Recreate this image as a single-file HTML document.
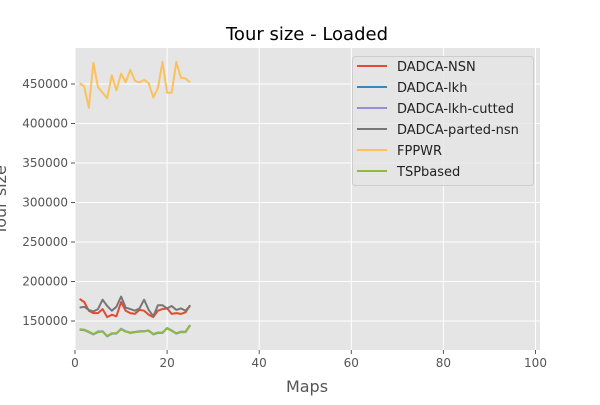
<!DOCTYPE html>
<html><head><meta charset="utf-8"><style>
body{margin:0;background:#fff;font-family:"Liberation Sans","DejaVu Sans",sans-serif;}
svg text{font-family:"DejaVu Sans","Liberation Sans",sans-serif;}
</style></head><body>
<svg id="c" width="600" height="400"></svg>
<script>
const xs=[1,2,3,4,5,6,7,8,9,10,11,12,13,14,15,16,17,18,19,20,21,22,23,24,25];
const nsn=[178000,174000,163000,160000,160000,165000,155000,158000,156000,174000,163000,160000,159000,164000,163000,158000,155000,163000,165000,166000,159000,160000,159000,161000,170000];
const parted=[167000,168000,164000,162000,165000,177000,169000,163000,168000,181000,167000,165000,163000,166000,177000,164000,156000,170000,170000,166000,169000,164000,166000,163000,169000];
const tsp=[139500,139000,136500,133500,136500,136500,131000,134500,134500,139500,136500,135500,136000,136500,137000,137500,133500,135500,135500,140500,137500,134500,136500,136500,145000];
const lkh=[139000,138500,136000,133000,136000,137000,130500,134000,134000,140000,137000,135000,136000,137000,137000,138000,133000,135000,135000,141000,138000,134000,136000,136000,144500];
const lkhc=[139200,138800,136300,133200,136800,136800,130800,134200,134300,140200,136800,135300,136200,136800,137200,137800,133300,135300,135300,140800,137800,134300,136300,136300,144800];
const fppwr=[451000,447000,420000,477000,446000,439000,432000,461000,442000,463000,452000,468000,454000,452000,455000,451000,433000,445000,478000,439000,439000,478000,458000,457000,452000];
const xTicks=[0,20,40,60,80,100];
const yTicks=[150000,200000,250000,300000,350000,400000,450000];
const seriesNames=["DADCA-NSN","DADCA-lkh","DADCA-lkh-cutted","DADCA-parted-nsn","FPPWR","TSPbased"];
const seriesData=[nsn,lkh,lkhc,parted,fppwr,tsp];
const colors=["#E24A33","#348ABD","#988ED5","#777777","#FBC15E","#8EBA42"];
const L=75,R=540,T=48,B=350;
const xS=v=>75+v*4.605;
const yS=v=>321-(v-150000)*0.00079;
const svg=document.getElementById('c');
const NS='http://www.w3.org/2000/svg';
function el(t,a,p){const e=document.createElementNS(NS,t);for(const k in a)e.setAttribute(k,a[k]);(p||svg).appendChild(e);return e;}
let bg=el('rect',{x:L,y:T,width:R-L,height:B-T,fill:'#E5E5E5'});


xTicks.forEach(v=>{const x=xS(v);
 let g=el('line',{x1:x,x2:x,y1:T,y2:B,stroke:'#fff','stroke-width':1});
 
 
 el('line',{x1:x,x2:x,y1:B,y2:B+4,stroke:'#555'});
 let t=el('text',{x:x,y:B+17,'text-anchor':'middle','font-size':12,fill:'#555'});t.textContent=v;
 
 
});
yTicks.forEach(v=>{const y=yS(v);
 let g=el('line',{x1:L,x2:R,y1:y,y2:y,stroke:'#fff','stroke-width':1});
 
 
 el('line',{x1:L-4,x2:L,y1:y,y2:y,stroke:'#555'});
 let t=el('text',{x:L-7,y:y+4,'text-anchor':'end','font-size':12,fill:'#555'});t.textContent=v;
 
 
});
seriesData.forEach((d,i)=>{
 const pts=d.map((v,j)=>xS(xs[j]).toFixed(1)+','+yS(v).toFixed(1)).join(' ');
 let p=el('polyline',{points:pts,fill:'none',stroke:colors[i],'stroke-width':2,'stroke-linejoin':'round'});
 
 
});
let tt=el('text',{x:307,y:40,'text-anchor':'middle','font-size':18,fill:'#000'});tt.textContent='Tour size - Loaded';


let xl=el('text',{x:307,y:392,'text-anchor':'middle','font-size':16,fill:'#555'});xl.textContent='Maps';


let yl=el('text',{x:0,y:0,'text-anchor':'middle','font-size':16,fill:'#555',transform:'translate(6,200) rotate(-90)'});yl.textContent='Tour size';


let lg=el('rect',{x:352.5,y:56.5,width:181,height:129,rx:3,fill:'#E5E5E5','fill-opacity':0.8,stroke:'#ccc'});


seriesNames.forEach((n,i)=>{const y=66+i*21;
 let l=el('line',{x1:357,x2:387,y1:y,y2:y,stroke:colors[i],'stroke-width':2});
 
 
 let t=el('text',{x:397,y:y+5,'font-size':13,fill:'#222'});t.textContent=n;
 
 
});
</script>
</body></html>
